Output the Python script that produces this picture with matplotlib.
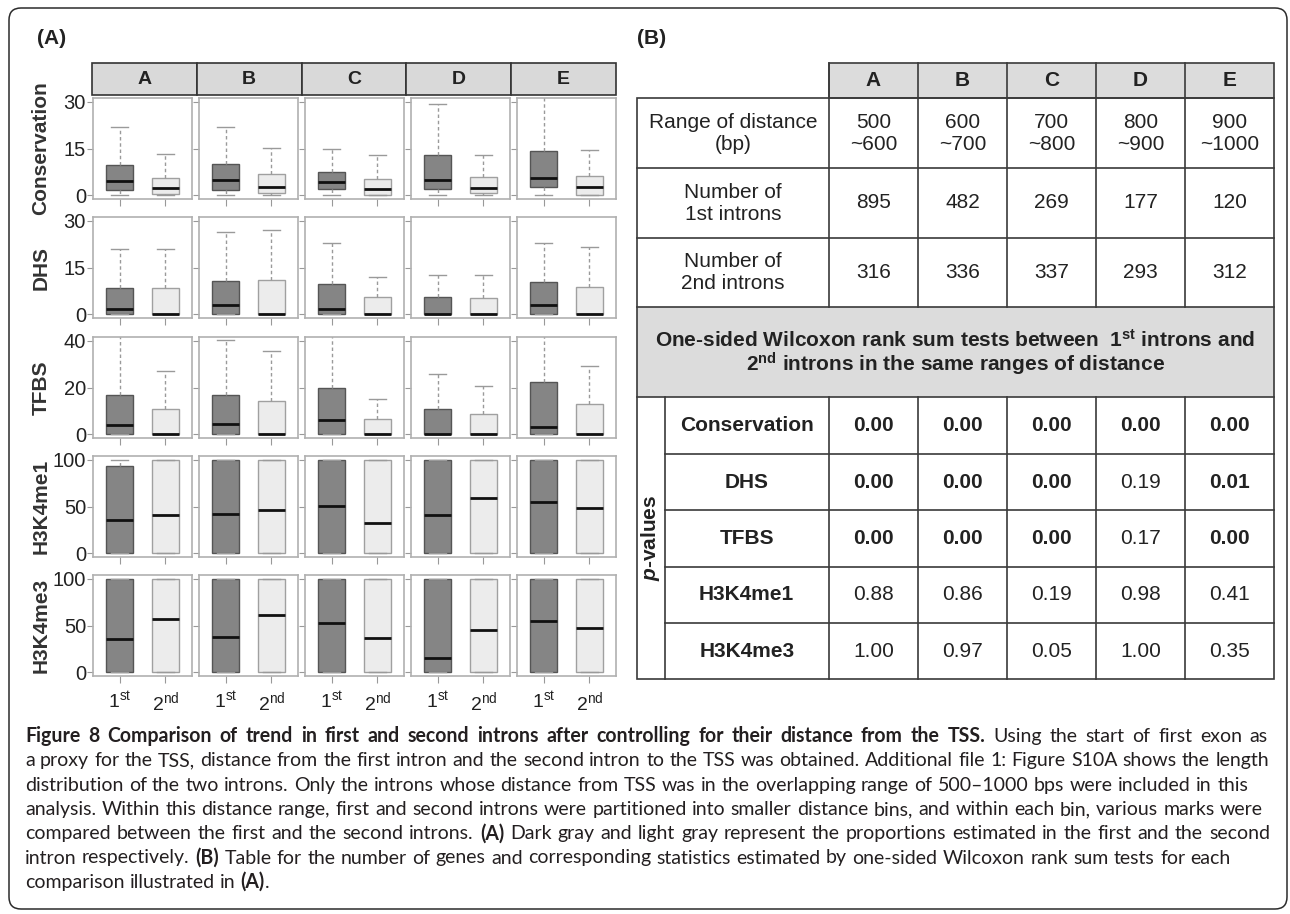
import numpy as np
import matplotlib.pyplot as plt
from matplotlib.patches import Rectangle, FancyBboxPatch

plt.rcParams['font.family'] = ['Liberation Sans', 'DejaVu Sans']
plt.rcParams['mathtext.fontset'] = 'custom'
plt.rcParams['mathtext.rm'] = 'Liberation Sans'
plt.rcParams['mathtext.it'] = 'Liberation Sans:italic'
plt.rcParams['mathtext.bf'] = 'Liberation Sans:bold'
plt.rcParams['mathtext.bfit'] = 'Liberation Sans:italic:bold'

# ---- datos ----
bins = ['A', 'B', 'C', 'D', 'E']
marks = ['Conservation', 'DHS', 'TFBS', 'H3K4me1', 'H3K4me3']
y_max = [30, 30, 40, 100, 100]
y_ticks = [[0, 15, 30], [0, 15, 30], [0, 20, 40], [0, 50, 100], [0, 50, 100]]

# (bigote inferior, q1, mediana, q3, bigote superior) por bin A..E
cons_1st = [[0, 1.6, 4.5, 9.8, 22.0], [0, 1.8, 4.8, 10.0, 22.0], [0, 1.9, 4.3, 7.6, 14.9],
            [0, 1.9, 5.0, 12.9, 29.3], [0, 2.5, 5.6, 14.3, 34.0]]
cons_2nd = [[0, 0.3, 2.4, 5.5, 13.3], [0, 0.7, 2.7, 6.8, 15.3], [0, 0.1, 2.0, 5.3, 12.8],
            [0, 0.7, 2.3, 5.7, 12.8], [0, 0.0, 2.5, 6.2, 14.4]]
dhs_1st = [[0, 0, 1.6, 8.5, 20.9], [0, 0, 3.1, 10.7, 26.4], [0, 0, 1.7, 9.7, 23.0],
           [0, 0, 0.0, 5.4, 12.7], [0, 0, 3.1, 10.4, 23.0]]
dhs_2nd = [[0, 0, 0, 8.5, 20.9], [0, 0, 0, 11.1, 27.1], [0, 0, 0, 5.4, 11.9],
           [0, 0, 0, 5.1, 12.7], [0, 0, 0, 8.8, 21.7]]
tfbs_1st = [[0, 0, 3.9, 16.8, 45.0], [0, 0, 4.6, 16.8, 40.3], [0, 0, 6.0, 19.7, 45.0],
            [0, 0, 0.0, 10.6, 25.9], [0, 0, 2.9, 22.5, 45.0]]
tfbs_2nd = [[0, 0, 0, 10.6, 26.9], [0, 0, 0, 14.2, 35.5], [0, 0, 0, 6.5, 15.1],
            [0, 0, 0, 8.8, 20.6], [0, 0, 0, 12.8, 29.3]]
me1_1st = [[0, 0, 35.8, 93.5, 100], [0, 0, 41.5, 100, 100], [0, 0, 50.1, 100, 100],
           [0, 0, 40.4, 100, 100], [0, 0, 54.8, 100, 100]]
me1_2nd = [[0, 0, 40.4, 100, 100], [0, 0, 45.8, 100, 100], [0, 0, 32.4, 100, 100],
           [0, 0, 59.5, 100, 100], [0, 0, 48.7, 100, 100]]
me3_1st = [[0, 0, 35.5, 100, 100], [0, 0, 37.6, 100, 100], [0, 0, 52.7, 100, 100],
           [0, 0, 15.1, 100, 100], [0, 0, 55.2, 100, 100]]
me3_2nd = [[0, 0, 56.6, 100, 100], [0, 0, 61.6, 100, 100], [0, 0, 36.6, 100, 100],
           [0, 0, 45.5, 100, 100], [0, 0, 46.9, 100, 100]]
first_data = [cons_1st, dhs_1st, tfbs_1st, me1_1st, me3_1st]
second_data = [cons_2nd, dhs_2nd, tfbs_2nd, me1_2nd, me3_2nd]

# tabla (B)
range_lo = [500, 600, 700, 800, 900]
range_hi = [600, 700, 800, 900, 1000]
n_first = [895, 482, 269, 177, 120]
n_second = [316, 336, 337, 293, 312]
p_cons = [0.00, 0.00, 0.00, 0.00, 0.00]
p_dhs = [0.00, 0.00, 0.00, 0.19, 0.01]
p_tfbs = [0.00, 0.00, 0.00, 0.17, 0.00]
p_me1 = [0.88, 0.86, 0.19, 0.98, 0.41]
p_me3 = [1.00, 0.97, 0.05, 1.00, 0.35]
p_values = [p_cons, p_dhs, p_tfbs, p_me1, p_me3]

# ---- figura ----
W, H = 1290, 914
fig = plt.figure(figsize=(W / 100, H / 100), dpi=100)
canvas = fig.add_axes([0, 0, 1, 1])
canvas.set_xlim(0, W)
canvas.set_ylim(H, 0)
canvas.axis('off')


def px_axes(x0, y0, w, h):
    return fig.add_axes([x0 / W, 1 - (y0 + h) / H, w / W, h / H])


# marco redondeado
canvas.add_patch(FancyBboxPatch((9, 8), 1278, 901, boxstyle='round,pad=0,rounding_size=12',
                                fc='none', ec='#2b2b2b', lw=1.1))

canvas.text(37, 39, '(A)', fontsize=15, fontweight='bold', va='center', color='#222222')
canvas.text(637, 39, '(B)', fontsize=15, fontweight='bold', va='center', color='#222222')

# ---- panel (A): boxplots ----
dark, light = '#858585', '#ececec'
panel_x = [93, 199, 305, 411, 517]
panel_y = [98, 217, 337, 456, 575]
pw, ph = 99, 101
keys = ['whislo', 'q1', 'med', 'q3', 'whishi']

strip_x0, strip_x1 = 92, 616
sw = (strip_x1 - strip_x0) / 5
for i, b in enumerate(bins):
    canvas.add_patch(Rectangle((strip_x0 + i * sw, 63), sw, 31.5, fc='#d9d9d9', ec='#333333', lw=1.2))
    canvas.text(strip_x0 + (i + 0.5) * sw, 79.5, b, ha='center', va='center',
                fontsize=14, fontweight='bold', color='#222222')

for r, mark in enumerate(marks):
    canvas.text(41, panel_y[r] + ph / 2, mark, rotation=90, ha='center', va='center',
                fontsize=15, fontweight='bold', color='#333333')
    for c in range(5):
        ax = px_axes(panel_x[c], panel_y[r], pw, ph)
        stats = []
        for vals in (first_data[r][c], second_data[r][c]):
            d = dict(zip(keys, vals))
            d['fliers'] = []
            stats.append(d)
        art = ax.bxp(stats, positions=[1, 2], widths=0.6, patch_artist=True, showfliers=False,
                     capwidths=0.36,
                     medianprops=dict(color='#111111', lw=2.0, solid_capstyle='butt'),
                     whiskerprops=dict(color='#9a9a9a', lw=1.0, ls=(0, (2.5, 2))),
                     capprops=dict(color='#9a9a9a', lw=1.0))
        art['boxes'][0].set(facecolor=dark, edgecolor='#555555', lw=1.0)
        art['boxes'][1].set(facecolor=light, edgecolor='#a0a0a0', lw=1.0)
        ax.set_xlim(0.42, 2.58)
        ax.set_ylim(-0.04 * y_max[r], 1.04 * y_max[r])
        ax.set_yticks(y_ticks[r])
        ax.set_xticks([1, 2])
        ax.tick_params(length=4, width=0.8, color='#999999', labelsize=14.5,
                       labelcolor='#222222', pad=1)
        ax.tick_params(axis='x', length=5, pad=5, labelsize=14)
        if c > 0:
            ax.set_yticklabels([])
        if r < 4:
            ax.set_xticklabels([])
        else:
            ax.set_xticklabels([r'1$^{\mathrm{st}}$', r'2$^{\mathrm{nd}}$'])
        for sp in ax.spines.values():
            sp.set_color('#b0b0b0')
            sp.set_linewidth(1.2)

# ---- panel (B): tabla ----
lc, lw_t = '#3a3a3a', 1.2
tx0, tpx, tlab, tx1 = 637, 664.5, 829, 1274
col_x = [829, 918, 1007, 1096, 1185, 1274]
hdr_top, body_top = 62.5, 98.3
row_y = [98.3, 168.3, 237.7, 306.7]
band_bot = 397.3
prow_y = [397.3, 454.0, 510.3, 566.7, 623.3, 679.3]
tfs = 15
tcol = '#222222'

canvas.add_patch(Rectangle((tlab, hdr_top), tx1 - tlab, body_top - hdr_top, fc='#dcdcdc', ec=lc, lw=lw_t))
canvas.add_patch(Rectangle((tx0, row_y[3]), tx1 - tx0, band_bot - row_y[3], fc='#dcdcdc', ec='none'))
canvas.add_patch(Rectangle((tx0, body_top), tx1 - tx0, prow_y[-1] - body_top, fc='none', ec=lc, lw=lw_t))
for y in row_y[1:] + [band_bot]:
    canvas.plot([tx0, tx1], [y, y], color=lc, lw=lw_t)
for y in prow_y[1:-1]:
    canvas.plot([tpx, tx1], [y, y], color=lc, lw=lw_t)
for x in col_x[:-1]:
    canvas.plot([x, x], [hdr_top, row_y[3]], color=lc, lw=lw_t)
    canvas.plot([x, x], [band_bot, prow_y[-1]], color=lc, lw=lw_t)
canvas.plot([tpx, tpx], [band_bot, prow_y[-1]], color=lc, lw=lw_t)

for i, b in enumerate(bins):
    cx = (col_x[i] + col_x[i + 1]) / 2
    canvas.text(cx, (hdr_top + body_top) / 2, b, ha='center', va='center', fontsize=tfs,
                fontweight='bold', color=tcol)
    canvas.text(cx, (row_y[0] + row_y[1]) / 2, f'{range_lo[i]}\n~{range_hi[i]}', ha='center',
                va='center', fontsize=tfs, color=tcol, linespacing=1.2)
    canvas.text(cx, (row_y[1] + row_y[2]) / 2, str(n_first[i]), ha='center', va='center',
                fontsize=tfs, color=tcol)
    canvas.text(cx, (row_y[2] + row_y[3]) / 2, str(n_second[i]), ha='center', va='center',
                fontsize=tfs, color=tcol)
    for j, pv in enumerate(p_values):
        canvas.text(cx, (prow_y[j] + prow_y[j + 1]) / 2, f'{pv[i]:.2f}', ha='center', va='center',
                    fontsize=tfs, color=tcol, fontweight='bold' if pv[i] < 0.05 else 'normal')

lab_cx = (tx0 + tlab) / 2
row_labels = ['Range of distance\n(bp)', 'Number of\n1st introns', 'Number of\n2nd introns']
for k, lab in enumerate(row_labels):
    canvas.text(lab_cx, (row_y[k] + row_y[k + 1]) / 2, lab, ha='center', va='center',
                fontsize=tfs, color=tcol, linespacing=1.2)
for j, mark in enumerate(marks):
    canvas.text((tpx + tlab) / 2, (prow_y[j] + prow_y[j + 1]) / 2, mark, ha='center', va='center',
                fontsize=tfs, fontweight='bold', color=tcol)
canvas.text((tx0 + tpx) / 2, (prow_y[0] + prow_y[-1]) / 2, r'$\mathbfit{p}$-values', rotation=90,
            ha='center', va='center', fontsize=tfs, fontweight='bold', color=tcol)

band_cy = (row_y[3] + band_bot) / 2
canvas.text((tx0 + tx1) / 2, band_cy - 12.5,
            r'One-sided Wilcoxon rank sum tests between  1$^{\mathbf{st}}$ introns and',
            ha='center', va='center', fontsize=15, fontweight='bold', color=tcol)
canvas.text((tx0 + tx1) / 2, band_cy + 12.5,
            r'2$^{\mathbf{nd}}$ introns in the same ranges of distance',
            ha='center', va='center', fontsize=15, fontweight='bold', color=tcol)

# ---- pie de figura (justificado) ----
cap_lines = [
    [('Figure 8 Comparison of trend in first and second introns after controlling for their distance from the TSS.', True),
     (' Using the start of first exon as', False)],
    [('a proxy for the TSS, distance from the first intron and the second intron to the TSS was obtained. Additional file 1: Figure S10A shows the length', False)],
    [('distribution of the two introns. Only the introns whose distance from TSS was in the overlapping range of 500\u20131000 bps were included in this', False)],
    [('analysis. Within this distance range, first and second introns were partitioned into smaller distance bins, and within each bin, various marks were', False)],
    [('compared between the first and the second introns. ', False), ('(A)', True),
     (' Dark gray and light gray represent the proportions estimated in the first and the second', False)],
    [('intron respectively. ', False), ('(B)', True),
     (' Table for the number of genes and corresponding statistics estimated by one-sided Wilcoxon rank sum tests for each', False)],
    [('comparison illustrated in ', False), ('(A)', True), ('.', False)],
]
cap_right = [1268, 1269, 1248, 1263, 1270, 1231, None]
cap_left, cap_base, cap_step = 25, 742, 24.3
cap_col = '#231f20'
renderer = fig.canvas.get_renderer()


def text_width(s, bold, fs):
    t = canvas.text(0, 0, s, fontsize=fs, family='Lato', fontweight='bold' if bold else 'normal')
    w = t.get_window_extent(renderer).width
    t.remove()
    return w


def tokenize(segments):
    words = [[]]
    for text, bold in segments:
        for k, part in enumerate(text.split(' ')):
            if k > 0:
                words.append([])
            if part:
                words[-1].append((part, bold))
    return [w for w in words if w]


# tamaño de letra: la segunda línea llena el ancho con espacios normales
base_fs = 11.0
nat = text_width(cap_lines[1][0][0], False, base_fs)
cap_fs = base_fs * (cap_right[1] - cap_left) / nat * 0.995

space_w = text_width('n n', False, cap_fs) - text_width('nn', False, cap_fs)
for i, segs in enumerate(cap_lines):
    words = tokenize(segs)
    widths = [[text_width(p, b, cap_fs) for p, b in w] for w in words]
    total = sum(sum(ws) for ws in widths)
    if cap_right[i] is None:
        gap = space_w
    else:
        gap = (cap_right[i] - cap_left - total) / (len(words) - 1)
    x = cap_left
    y = cap_base + i * cap_step
    for w, ws in zip(words, widths):
        for (p, b), pw_ in zip(w, ws):
            canvas.text(x, y, p, fontsize=cap_fs, family='Lato', fontweight='bold' if b else 'normal',
                        color=cap_col, va='baseline', ha='left')
            x += pw_
        x += gap

fig.savefig('out.png', dpi=100)
